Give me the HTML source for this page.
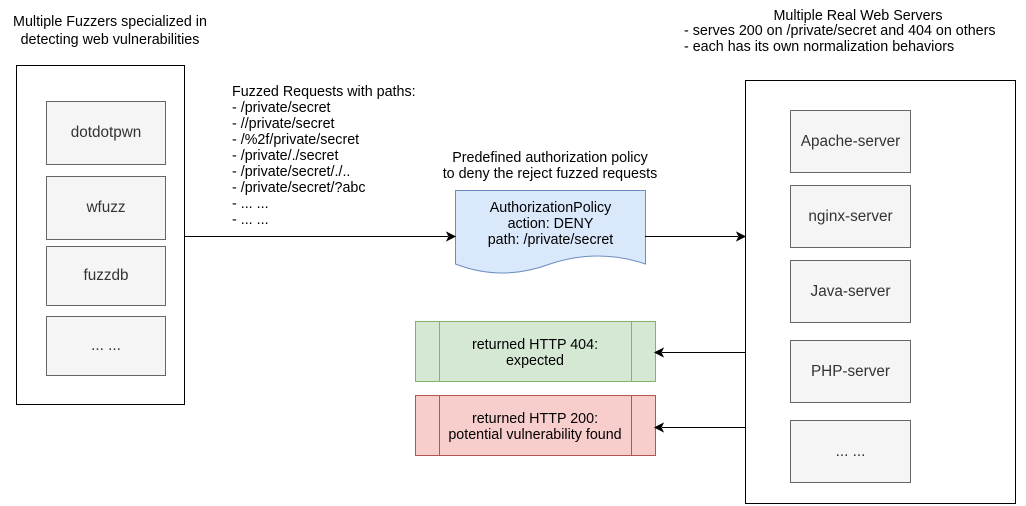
<!DOCTYPE html>
<html><head><style>
body{margin:0;width:1026px;height:506px;background:#fff;position:relative;overflow:hidden;font-family:"Liberation Sans",sans-serif;font-size:14.3px;color:#000}
.a{position:absolute}
.box{position:absolute;background:#f5f5f5;border:1px solid #666;display:flex;align-items:center;justify-content:center;box-sizing:border-box;color:#333;font-size:15.3px}
.c{position:absolute;text-align:center;line-height:16px}
</style></head><body>
<div class="c" style="left:0;top:13px;width:220px;line-height:18px">Multiple Fuzzers specialized in<br>detecting web vulnerabilities</div>
<div class="a" style="left:16px;top:65px;width:169px;height:340px;border:1px solid #000;box-sizing:border-box"></div>
<div class="box" style="left:46px;top:101px;width:120px;height:64px">dotdotpwn</div>
<div class="box" style="left:46px;top:176px;width:120px;height:64px">wfuzz</div>
<div class="box" style="left:46px;top:246px;width:120px;height:60px">fuzzdb</div>
<div class="box" style="left:46px;top:316px;width:120px;height:60px">... ...</div>
<div class="a" style="left:232px;top:84px;line-height:16px">Fuzzed Requests with paths:<br>- /private/secret<br>- //private/secret<br>- /%2f/private/secret<br>- /private/./secret<br>- /private/secret/./..<br>- /private/secret/?abc<br>- ... ...<br>- ... ...</div>
<div class="c" style="left:410px;top:150px;width:280px">Predefined authorization policy<br>to deny the reject fuzzed requests</div>
<div class="c" style="left:680px;top:8px;width:356px">Multiple Real Web Servers</div>
<div class="a" style="left:684px;top:23px;line-height:16px;white-space:nowrap">- serves 200 on /private/secret and 404 on others<br>- each has its own normalization behaviors</div>
<div class="a" style="left:745px;top:80px;width:271px;height:424px;border:1px solid #000;box-sizing:border-box"></div>
<div class="box" style="left:790px;top:110px;width:121px;height:63px">Apache-server</div>
<div class="box" style="left:790px;top:185px;width:121px;height:63px">nginx-server</div>
<div class="box" style="left:790px;top:260px;width:121px;height:63px">Java-server</div>
<div class="box" style="left:790px;top:340px;width:121px;height:63px">PHP-server</div>
<div class="box" style="left:790px;top:420px;width:121px;height:63px">... ...</div>
<svg class="a" style="left:0;top:0" width="1026" height="506">
<path d="M455.5,190.5 H645.5 V264 Q598,248 550,264 Q502,282 455.5,264 Z" fill="#dae8fc" stroke="#6c8ebf"/>
<rect x="415.5" y="321.5" width="240" height="60" fill="#d5e8d4" stroke="#82b366"/>
<line x1="439.5" y1="321.5" x2="439.5" y2="381.5" stroke="#82b366"/>
<line x1="631.5" y1="321.5" x2="631.5" y2="381.5" stroke="#82b366"/>
<rect x="415.5" y="395.5" width="240" height="60" fill="#f8cecc" stroke="#b85450"/>
<line x1="439.5" y1="395.5" x2="439.5" y2="455.5" stroke="#b85450"/>
<line x1="631.5" y1="395.5" x2="631.5" y2="455.5" stroke="#b85450"/>
<g stroke="#000" fill="#000">
<line x1="185" y1="236.5" x2="448" y2="236.5"/><path d="M455,236.5 l-8,-4 l2,4 l-2,4z"/>
<line x1="645" y1="236.5" x2="738" y2="236.5"/><path d="M745,236.5 l-8,-4 l2,4 l-2,4z"/>
<line x1="745" y1="352.5" x2="662" y2="352.5"/><path d="M655,352.5 l8,-4 l-2,4 l2,4z"/>
<line x1="745" y1="427.5" x2="662" y2="427.5"/><path d="M655,427.5 l8,-4 l-2,4 l2,4z"/>
</g>
</svg>
<div class="c" style="left:445px;top:200px;width:211px;color:#000">AuthorizationPolicy<br>action: DENY<br>path: /private/secret</div>
<div class="c" style="left:419px;top:337px;width:232px">returned HTTP 404:<br>expected</div>
<div class="c" style="left:419px;top:411px;width:232px">returned HTTP 200:<br>potential vulnerability found</div>
</body></html>
